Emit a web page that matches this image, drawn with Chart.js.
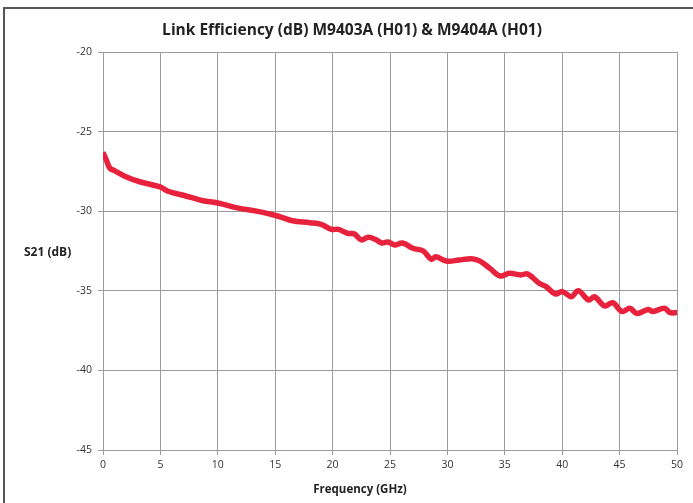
<!DOCTYPE html>
<html>
<head>
<meta charset="utf-8">
<script src="https://cdn.jsdelivr.net/npm/chart.js@4"></script>
<style>
  html, body { margin: 0; padding: 0; background: #fff; }
  canvas { display: block; }
</style>
</head>
<body>
<canvas id="grafico" width="693" height="503"></canvas>
<script>
// valores
const freq = [0, 0.3, 0.6, 1.0, 2.0, 3.2, 4.9, 5.8, 7.0, 8.7, 9.9, 11.9, 13.6, 15.2, 16.5, 18.0, 19.0, 19.9, 20.5, 21.3, 21.9, 22.5, 23.1, 23.7, 24.3, 24.8, 25.4, 26.1, 27.0, 27.9, 28.6, 29.0, 29.9, 31.0, 32.1, 32.8, 33.7, 34.6, 35.4, 36.4, 37.0, 38.0, 38.6, 39.4, 40.0, 40.8, 41.4, 42.3, 42.8, 43.7, 44.4, 45.2, 45.9, 46.5, 47.5, 47.9, 48.9, 49.4, 50];
const s21 = [-26.3, -26.8, -27.3, -27.45, -27.83, -28.15, -28.46, -28.78, -29.0, -29.34, -29.47, -29.82, -30.03, -30.3, -30.6, -30.72, -30.82, -31.14, -31.14, -31.39, -31.43, -31.8, -31.64, -31.76, -32.0, -31.93, -32.12, -32.0, -32.33, -32.5, -33.02, -32.86, -33.13, -33.07, -32.98, -33.12, -33.59, -34.07, -33.9, -34.0, -33.94, -34.53, -34.74, -35.2, -35.05, -35.37, -34.99, -35.58, -35.37, -35.95, -35.75, -36.3, -36.1, -36.42, -36.17, -36.3, -36.1, -36.37, -36.37];
const xTicks = [0, 5, 10, 15, 20, 25, 30, 35, 40, 45, 50];
const yTicks = [-45, -40, -35, -30, -25, -20];

const titulo = 'Link Efficiency (dB) M9403A (H01) & M9404A (H01)';
const tituloX = 'Frequency (GHz)';
const tituloY = 'S21 (dB)';

const fonte = "'Open Sans', 'Liberation Sans', sans-serif";

// desenha moldura e titulos como texto
const textos = {
  id: 'textos',
  afterDraw(chart) {
    const ctx = chart.ctx;
    ctx.save();
    ctx.strokeStyle = '#555';
    ctx.lineWidth = 2;
    ctx.beginPath();
    ctx.moveTo(4, 503);
    ctx.lineTo(4, 8);
    ctx.lineTo(693, 8);
    ctx.stroke();

    ctx.fillStyle = '#222';
    ctx.textAlign = 'center';
    ctx.textBaseline = 'middle';
    ctx.font = `bold 15.5px ${fonte}`;
    ctx.fillText(titulo, 352, 31);
    ctx.font = `bold 11.5px ${fonte}`;
    ctx.fillText(tituloX, 360, 490);
    ctx.font = `bold 12px ${fonte}`;
    ctx.textAlign = 'left';
    ctx.fillText(tituloY, 24, 253);
    ctx.restore();
  }
};

new Chart(document.getElementById('grafico'), {
  type: 'line',
  data: {
    datasets: [{
      data: freq.map((f, i) => ({ x: f, y: s21[i] })),
      borderColor: '#e8213c',
      borderWidth: 5.5,
      pointRadius: 0,
      tension: 0.35,
      fill: false
    }]
  },
  options: {
    responsive: false,
    animation: false,
    layout: { padding: { left: 0, right: 16, top: 52, bottom: 0 } },
    plugins: {
      legend: { display: false },
      tooltip: { enabled: false }
    },
    scales: {
      x: {
        type: 'linear',
        min: 0,
        max: 50,
        afterBuildTicks: axis => { axis.ticks = xTicks.map(v => ({ value: v })); },
        afterFit: axis => { axis.height = 53; },
        grid: { color: '#9c9c9c', lineWidth: 1, tickLength: 5, drawTicks: true },
        border: { color: '#9c9c9c' },
        ticks: { color: '#333', font: { family: fonte, size: 10.5 }, padding: 4, maxRotation: 0 }
      },
      y: {
        min: -45,
        max: -20,
        afterBuildTicks: axis => { axis.ticks = yTicks.map(v => ({ value: v })); },
        afterFit: axis => { axis.width = 103; },
        grid: { color: '#9c9c9c', lineWidth: 1, tickLength: 5 },
        border: { color: '#9c9c9c' },
        ticks: { color: '#333', font: { family: fonte, size: 10.5 }, padding: 6 }
      }
    }
  },
  plugins: [textos]
});
</script>
</body>
</html>
